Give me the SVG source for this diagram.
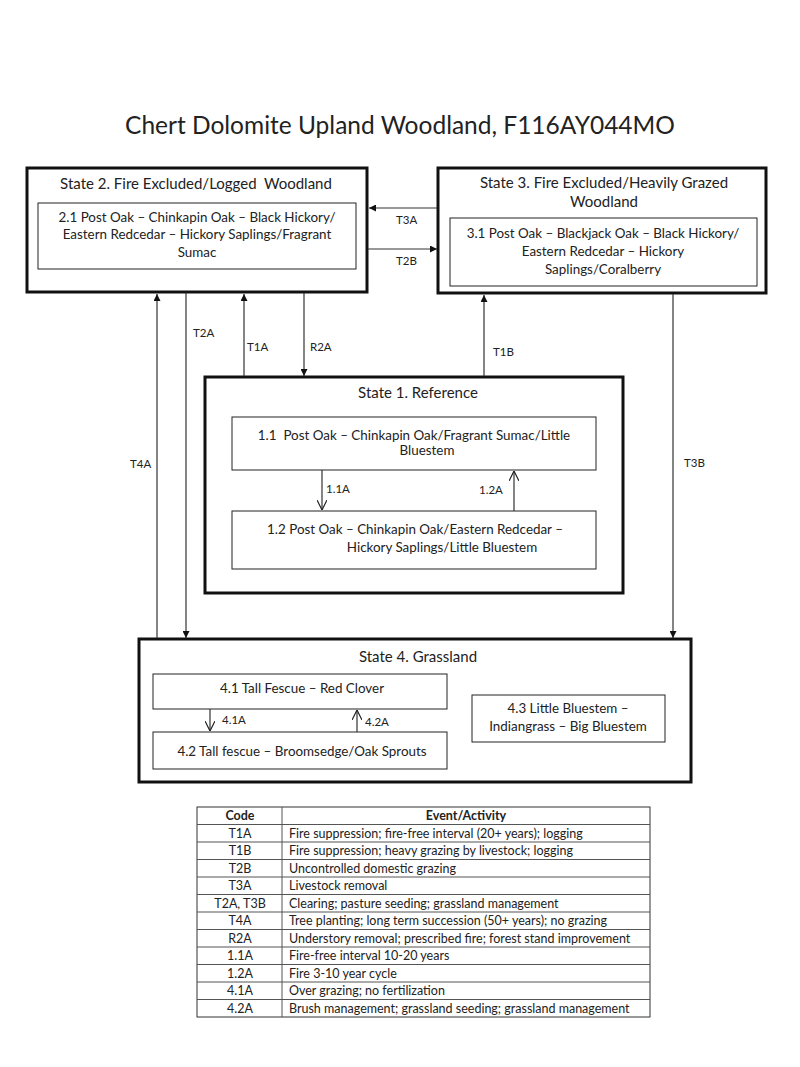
<svg xmlns="http://www.w3.org/2000/svg" width="800" height="1067" viewBox="0 0 800 1067">
<style>
text{font-family:Lato,"Liberation Sans",sans-serif;fill:#222;white-space:pre}
.title{font-size:24.5px}
.st{font-size:15px;text-anchor:middle}
.in{font-size:13.4px;text-anchor:middle}
.lb{font-size:11.5px}
.tb{font-size:12.5px}
.tbc{font-size:12.5px;text-anchor:middle}
.th{font-size:12.5px;font-weight:bold;text-anchor:middle}
.outer{fill:#fff;stroke:#111;stroke-width:3}
.inner{fill:#fff;stroke:#222;stroke-width:1}
.con{stroke:#333;stroke-width:1.2;fill:none}
.tl{stroke:#555;stroke-width:1}
</style>
<defs>
<marker id="ah" viewBox="0 0 10 10" refX="10" refY="5" markerWidth="7" markerHeight="7" orient="auto" markerUnits="userSpaceOnUse">
<path d="M0,0 L10,5 L0,10 z" fill="#111"/>
</marker>
<marker id="ov" viewBox="0 0 10 10" refX="10" refY="5" markerWidth="10" markerHeight="10" orient="auto" markerUnits="userSpaceOnUse">
<path d="M0,0 L10,5 L0,10" fill="none" stroke="#222" stroke-width="1.2"/>
</marker>
</defs>
<rect width="800" height="1067" fill="#fff"/>
<text class="title" x="400" y="134" text-anchor="middle">Chert Dolomite Upland Woodland, F116AY044MO</text>

<g id="state2">
<rect class="outer" x="27" y="168" width="340" height="124"/>
<text class="st" x="196" y="189">State 2. Fire Excluded/Logged  Woodland</text>
<rect class="inner" x="38" y="203" width="318" height="66"/>
<text class="in" x="197" y="222">2.1 Post Oak – Chinkapin Oak – Black Hickory/</text>
<text class="in" x="197" y="239">Eastern Redcedar – Hickory Saplings/Fragrant</text>
<text class="in" x="197" y="257">Sumac</text>
</g>

<g id="state3">
<rect class="outer" x="438" y="168" width="328" height="125"/>
<text class="st" x="604" y="188">State 3. Fire Excluded/Heavily Grazed</text>
<text class="st" x="604" y="207">Woodland</text>
<rect class="inner" x="450" y="218" width="307" height="68"/>
<text class="in" x="603" y="238">3.1 Post Oak – Blackjack Oak – Black Hickory/</text>
<text class="in" x="603" y="256">Eastern Redcedar – Hickory</text>
<text class="in" x="603" y="274">Saplings/Coralberry</text>
</g>

<g id="state1">
<rect class="outer" x="205" y="377" width="418" height="216"/>
<text class="st" x="418" y="398">State 1. Reference</text>
<g id="c11">
<rect class="inner" x="232" y="417" width="364" height="53"/>
<text class="in" x="414" y="440">1.1  Post Oak – Chinkapin Oak/Fragrant Sumac/Little</text>
<text class="in" x="427" y="455">Bluestem</text>
</g>
<g id="c12">
<rect class="inner" x="232" y="511" width="364" height="58"/>
<text class="in" x="415" y="534">1.2 Post Oak – Chinkapin Oak/Eastern Redcedar –</text>
<text class="in" x="442" y="552">Hickory Saplings/Little Bluestem</text>
</g>
</g>

<g id="state4">
<rect class="outer" x="139" y="639" width="552" height="143"/>
<text class="st" x="418" y="662">State 4. Grassland</text>
<g id="c41">
<rect class="inner" x="153" y="674" width="294" height="35"/>
<text class="in" x="302" y="693">4.1 Tall Fescue – Red Clover</text>
</g>
<g id="c42">
<rect class="inner" x="153" y="732" width="294" height="37"/>
<text class="in" x="302" y="756">4.2 Tall fescue – Broomsedge/Oak Sprouts</text>
</g>
<g id="c43">
<rect class="inner" x="472" y="695" width="193" height="47"/>
<text class="in" x="568" y="713">4.3 Little Bluestem –</text>
<text class="in" x="568" y="731">Indiangrass – Big Bluestem</text>
</g>
</g>

<g id="connectors">
<line class="con" x1="437" y1="208" x2="369" y2="208" marker-end="url(#ah)"/>
<line class="con" x1="368" y1="249" x2="437" y2="249" marker-end="url(#ah)"/>
<line class="con" x1="157" y1="638" x2="157" y2="294" marker-end="url(#ah)"/>
<line class="con" x1="186" y1="293" x2="186" y2="638" marker-end="url(#ah)"/>
<line class="con" x1="244" y1="376" x2="244" y2="294" marker-end="url(#ah)"/>
<line class="con" x1="304" y1="293" x2="304" y2="376" marker-end="url(#ah)"/>
<line class="con" x1="484" y1="376" x2="484" y2="295" marker-end="url(#ah)"/>
<line class="con" x1="673" y1="294" x2="673" y2="638" marker-end="url(#ah)"/>
<line class="con" x1="322" y1="470" x2="322" y2="510" marker-end="url(#ov)"/>
<line class="con" x1="514" y1="511" x2="514" y2="471" marker-end="url(#ov)"/>
<line class="con" x1="210" y1="709" x2="210" y2="731" marker-end="url(#ov)"/>
<line class="con" x1="357" y1="732" x2="357" y2="710" marker-end="url(#ov)"/>
<text class="lb" x="396" y="224">T3A</text>
<text class="lb" x="396" y="265">T2B</text>
<text class="lb" x="130" y="468">T4A</text>
<text class="lb" x="193" y="337">T2A</text>
<text class="lb" x="247" y="351">T1A</text>
<text class="lb" x="310" y="351">R2A</text>
<text class="lb" x="493" y="356">T1B</text>
<text class="lb" x="684" y="467">T3B</text>
<text class="lb" x="326" y="493">1.1A</text>
<text class="lb" x="479" y="494">1.2A</text>
<text class="lb" x="222" y="724">4.1A</text>
<text class="lb" x="365" y="726">4.2A</text>
</g>

<g id="legend">
<rect x="197" y="807" width="453" height="210" fill="#fff" stroke="#333" stroke-width="1"/>
<line class="tl" x1="282" y1="807" x2="282" y2="1017"/>
<line class="tl" x1="197" y1="824.5" x2="650" y2="824.5"/>
<line class="tl" x1="197" y1="842" x2="650" y2="842"/>
<line class="tl" x1="197" y1="859.5" x2="650" y2="859.5"/>
<line class="tl" x1="197" y1="877" x2="650" y2="877"/>
<line class="tl" x1="197" y1="894.5" x2="650" y2="894.5"/>
<line class="tl" x1="197" y1="912" x2="650" y2="912"/>
<line class="tl" x1="197" y1="929.5" x2="650" y2="929.5"/>
<line class="tl" x1="197" y1="947" x2="650" y2="947"/>
<line class="tl" x1="197" y1="964.5" x2="650" y2="964.5"/>
<line class="tl" x1="197" y1="982" x2="650" y2="982"/>
<line class="tl" x1="197" y1="999.5" x2="650" y2="999.5"/>
<text class="th" x="240" y="820">Code</text>
<text class="th" x="466" y="820">Event/Activity</text>
<text class="tbc" x="240" y="837.5">T1A</text>
<text class="tb" x="289" y="837.5">Fire suppression; fire-free interval (20+ years); logging</text>
<text class="tbc" x="240" y="855">T1B</text>
<text class="tb" x="289" y="855">Fire suppression; heavy grazing by livestock; logging</text>
<text class="tbc" x="240" y="872.5">T2B</text>
<text class="tb" x="289" y="872.5">Uncontrolled domestic grazing</text>
<text class="tbc" x="240" y="890">T3A</text>
<text class="tb" x="289" y="890">Livestock removal</text>
<text class="tbc" x="240" y="907.5">T2A, T3B</text>
<text class="tb" x="289" y="907.5">Clearing; pasture seeding; grassland management</text>
<text class="tbc" x="240" y="925">T4A</text>
<text class="tb" x="289" y="925">Tree planting; long term succession (50+ years); no grazing</text>
<text class="tbc" x="240" y="942.5">R2A</text>
<text class="tb" x="289" y="942.5">Understory removal; prescribed fire; forest stand improvement</text>
<text class="tbc" x="240" y="960">1.1A</text>
<text class="tb" x="289" y="960">Fire-free interval 10-20 years</text>
<text class="tbc" x="240" y="977.5">1.2A</text>
<text class="tb" x="289" y="977.5">Fire 3-10 year cycle</text>
<text class="tbc" x="240" y="995">4.1A</text>
<text class="tb" x="289" y="995">Over grazing; no fertilization</text>
<text class="tbc" x="240" y="1012.5">4.2A</text>
<text class="tb" x="289" y="1012.5">Brush management; grassland seeding; grassland management</text>
</g>
</svg>
